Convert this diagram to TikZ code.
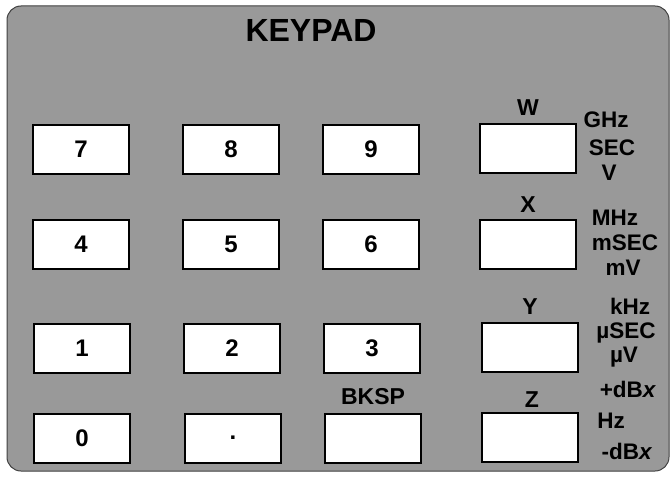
\documentclass[tikz,border=0pt]{standalone}
\usepackage{fontspec}
\setmainfont{Liberation Sans}
\tikzset{
  x=1pt, y=-1pt,
  keybox/.style={draw=black, fill=white, line width=2pt, minimum width=96pt, minimum height=49pt, inner sep=0pt, font=\fontsize{24}{24}\selectfont\bfseries},
  keylabel/.style={inner sep=0pt, font=\fontsize{23}{23}\selectfont\bfseries},
  unitlabel/.style={inner sep=0pt, font=\fontsize{22.5}{22.5}\selectfont\bfseries},
  titlelabel/.style={inner sep=0pt, font=\fontsize{32}{32}\selectfont\bfseries}
}
\begin{document}
\begin{tikzpicture}
\useasboundingbox (0,0) rectangle (671,476);
\fill[white] (0,0) rectangle (671,476);
\draw[fill=black!40, draw=black!75, line width=1pt, rounded corners=14pt] (7,6) rectangle (669,471);
\node[titlelabel] (title) at (311,30) {KEYPAD};
% keys
\node[keybox] (k7) at (81,149) {7};
\node[keybox] (k8) at (231,149) {8};
\node[keybox] (k9) at (371,149) {9};
\node[keybox] (kw) at (528,148) {};
\node[keybox] (k4) at (81,244) {4};
\node[keybox] (k5) at (231,244) {5};
\node[keybox] (k6) at (371,244) {6};
\node[keybox] (kx) at (528,244) {};
\node[keybox] (k1) at (82,348) {1};
\node[keybox] (k2) at (232,348) {2};
\node[keybox] (k3) at (372,348) {3};
\node[keybox] (ky) at (530,347) {};
\node[keybox] (k0) at (82,438) {0};
\node[keybox] (kdot) at (233,438) {.};
\node[keybox] (kb) at (373,438) {};
\node[keybox] (kz) at (530,437) {};
% labels above keys
\node[keylabel] (lw) at (528,108) {W};
\node[keylabel] (lx) at (528,205) {X};
\node[keylabel] (ly) at (530,307) {Y};
\node[keylabel] (lz) at (532,400) {Z};
\node[keylabel] (lb) at (373,397) {BKSP};
% unit labels
\node[unitlabel] (u1) at (606,120) {GHz};
\node[unitlabel] (u2) at (612,148) {SEC};
\node[unitlabel] (u3) at (609,173) {V};
\node[unitlabel] (u4) at (615,218) {MHz};
\node[unitlabel] (u5) at (625,243) {mSEC};
\node[unitlabel] (u6) at (623,268) {mV};
\node[unitlabel] (u7) at (630,306) {kHz};
\node[unitlabel] (u8) at (626,333) {µSEC};
\node[unitlabel] (u9) at (624,357) {µV};
\node[unitlabel] (u10) at (628,389) {+dB\textit{x}};
\node[unitlabel] (u11) at (611,421) {Hz};
\node[unitlabel] (u12) at (627,451) {-dB\textit{x}};
\end{tikzpicture}
\end{document}
